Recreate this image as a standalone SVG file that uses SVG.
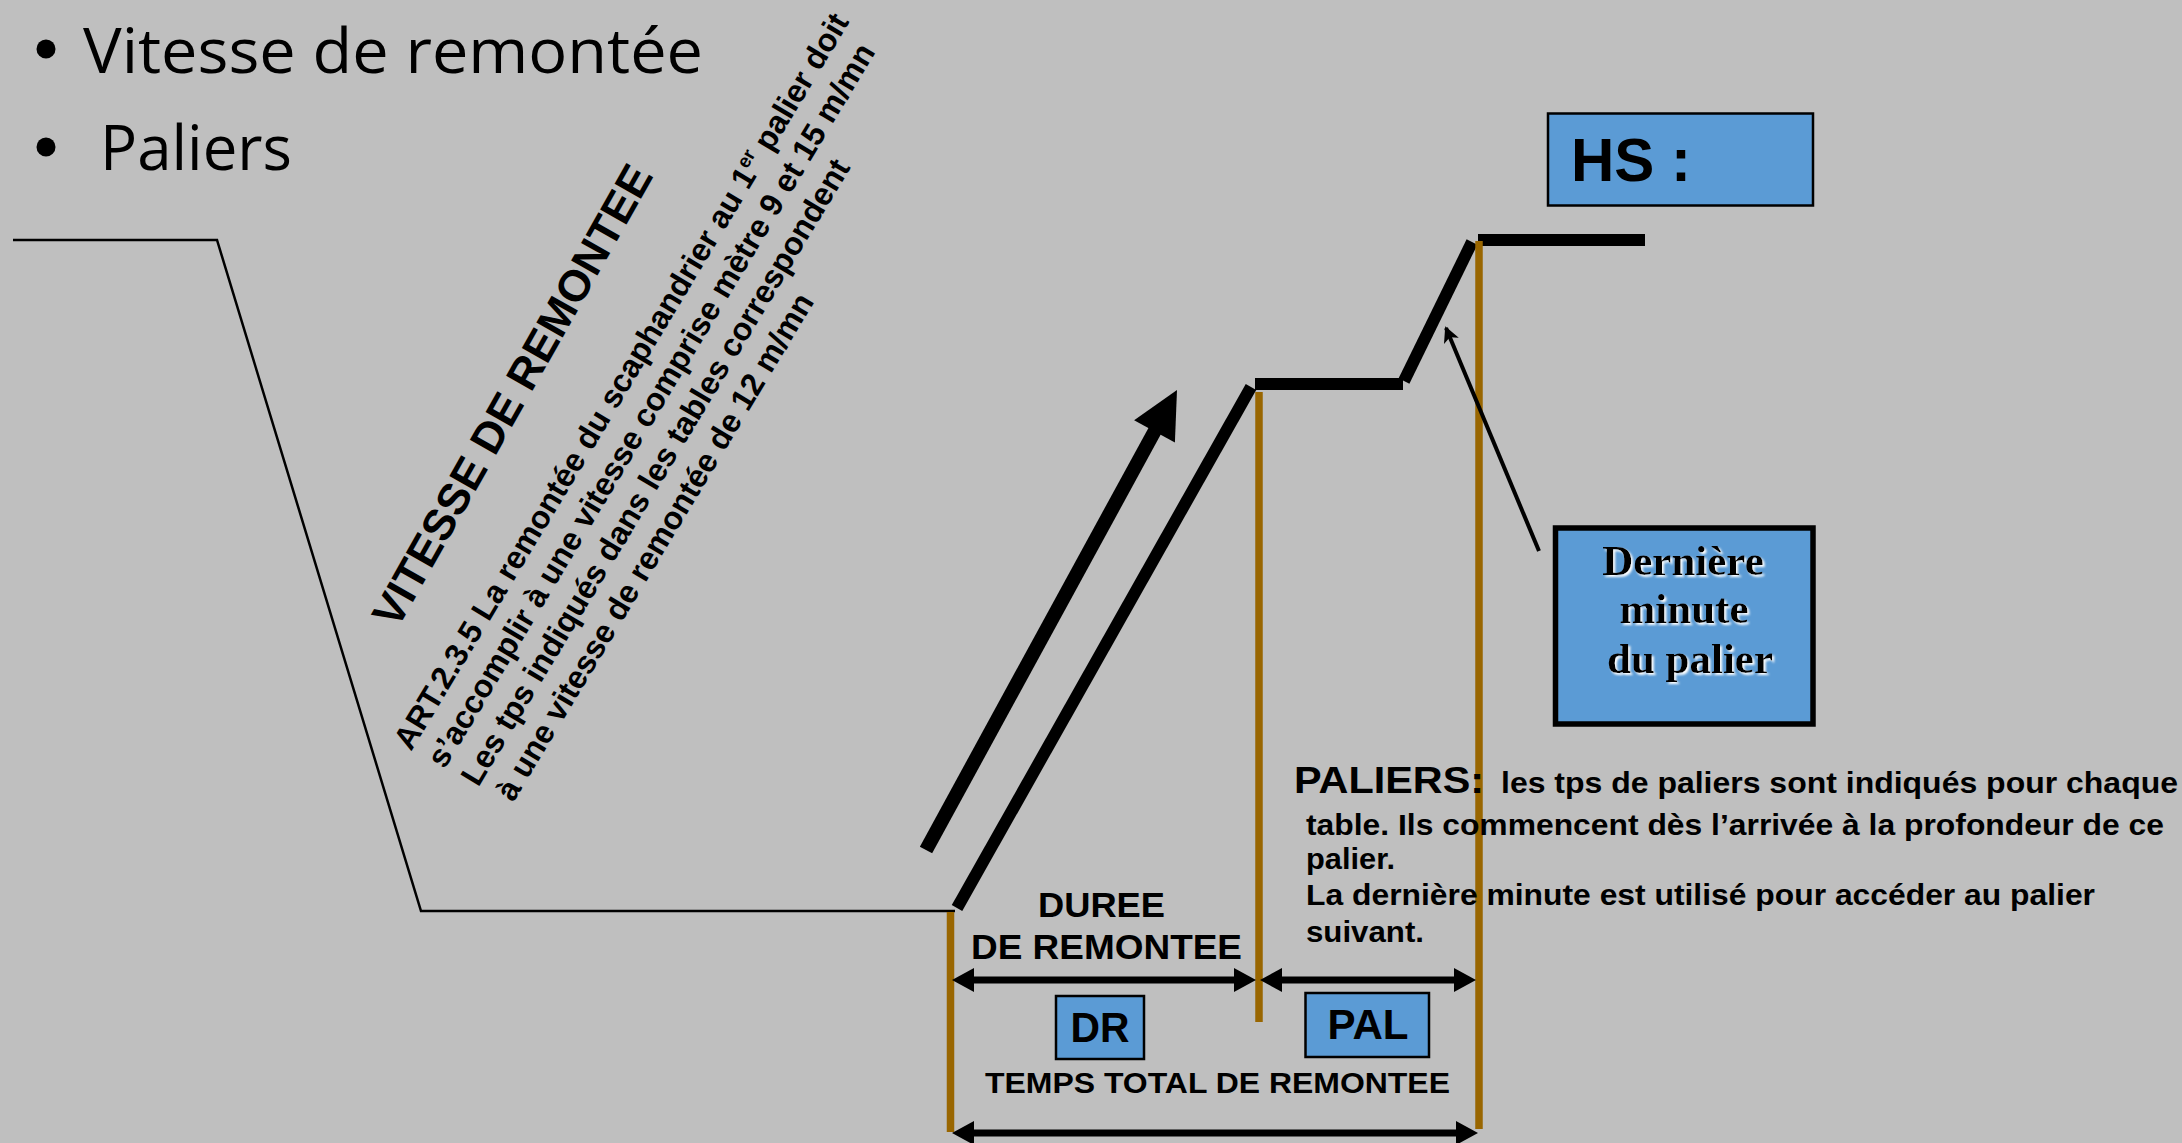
<svg xmlns="http://www.w3.org/2000/svg" width="2182" height="1143" viewBox="0 0 2182 1143">
<style>
.sans{font-family:"Liberation Sans",Arial,sans-serif;font-weight:bold;fill:#000}
.title{font-family:"Open Sans","Noto Sans",sans-serif;font-size:63px;fill:#000}
.serif{font-family:"Liberation Serif","Times New Roman",serif;font-weight:bold;font-size:43px;fill:#000;text-anchor:middle}
.orange{stroke:#996600;stroke-width:7.5;fill:none}
.thick{stroke:#000;stroke-width:12;fill:none;stroke-linecap:butt}
.dim{stroke:#000;stroke-width:7;fill:none}
.box{fill:#5B9BD5;stroke:#000;stroke-width:2.5}
</style>
<defs>
<marker id="dh" viewBox="0 0 22 24" refX="10" refY="12" markerWidth="22" markerHeight="24" markerUnits="userSpaceOnUse" orient="auto-start-reverse"><path d="M0,0 L22,12 L0,24 z" fill="#000"/></marker>
<marker id="sh" viewBox="0 0 16 16" refX="14" refY="8" markerWidth="16" markerHeight="16" markerUnits="userSpaceOnUse" orient="auto"><path d="M0,0 L16,8 L0,16 L4,8 z" fill="#000"/></marker>
<filter id="glow" x="-10%" y="-10%" width="130%" height="130%">
<feOffset in="SourceAlpha" dx="2" dy="2" result="o"/>
<feGaussianBlur in="o" stdDeviation="0.8" result="b"/>
<feFlood flood-color="#fff"/>
<feComposite in2="b" operator="in" result="w"/>
<feMerge><feMergeNode in="w"/><feMergeNode in="SourceGraphic"/></feMerge>
</filter>
</defs>
<rect width="2182" height="1143" fill="#BFBFBF"/>

<g id="bullets">
<circle cx="46" cy="49" r="9.5" fill="#000"/>
<text class="title" x="83" y="73" textLength="620" lengthAdjust="spacingAndGlyphs">Vitesse de remontée</text>
<circle cx="46" cy="147" r="9.5" fill="#000"/>
<text class="title" x="100" y="170" textLength="192" lengthAdjust="spacingAndGlyphs">Paliers</text>
</g>

<g id="profile">
<polyline points="13,240 217,240 421,911 955,911" fill="none" stroke="#000" stroke-width="2.5"/>
<line class="thick" x1="957" y1="908" x2="1251" y2="387"/>
<line class="thick" x1="1255" y1="384" x2="1403" y2="384"/>
<line class="thick" x1="1404" y1="381" x2="1472" y2="242"/>
<line class="thick" x1="1478" y1="240" x2="1645" y2="240"/>
</g>

<g id="ascent-arrow">
<line x1="926" y1="850" x2="1158" y2="425" stroke="#000" stroke-width="14"/>
<polygon points="1177,390 1174.9,442.4 1134.1,420.2" fill="#000"/>
</g>

<g id="vitesse-text" class="sans">
<text transform="translate(397,630) rotate(-60.5)" font-size="44" textLength="522" lengthAdjust="spacingAndGlyphs">VITESSE DE REMONTEE</text>
<g transform="translate(411,752) rotate(-59)" font-size="32">
<text x="0" y="0">ART.2.3.5 La remontée du scaphandrier au 1<tspan font-size="19" dy="-12">er</tspan><tspan dy="12">   palier doit</tspan></text>
<text x="2" y="38">s’accomplir à une vitesse comprise mètre 9 et 15 m/mn</text>
<text x="4" y="76">Les tps indiqués dans les tables correspondent</text>
<text x="9" y="114">à une vitesse de remontée de 12 m/mn</text>
</g>
</g>

<g id="verticals">
<line class="orange" x1="950.5" y1="912" x2="950.5" y2="1132"/>
<line class="orange" x1="1259" y1="392" x2="1259" y2="1022"/>
<line class="orange" x1="1479" y1="241" x2="1479" y2="1129"/>
</g>

<g id="connectors">
<line class="dim" x1="964" y1="980" x2="1244" y2="980" marker-start="url(#dh)" marker-end="url(#dh)"/>
<line class="dim" x1="1272" y1="980" x2="1464" y2="980" marker-start="url(#dh)" marker-end="url(#dh)"/>
<line class="dim" x1="964" y1="1133" x2="1466" y2="1133" marker-start="url(#dh)" marker-end="url(#dh)"/>
<line x1="1539" y1="551" x2="1446" y2="328" stroke="#000" stroke-width="4" marker-end="url(#sh)"/>
</g>

<g id="hs">
<rect class="box" x="1548" y="113.5" width="265" height="92"/>
<text class="sans" x="1571" y="181" font-size="62" textLength="120" lengthAdjust="spacingAndGlyphs">HS :</text>
</g>

<g id="derniere">
<rect x="1555.5" y="528" width="257.5" height="196" fill="#5B9BD5" stroke="#000" stroke-width="5.5"/>
<g filter="url(#glow)">
<text class="serif" x="1683" y="575">Dernière</text>
<text class="serif" x="1684" y="623">minute</text>
<text class="serif" x="1690" y="673">du palier</text>
</g>
</g>

<g id="duree" class="sans" text-anchor="middle">
<text x="1101.5" y="917" font-size="35" textLength="127" lengthAdjust="spacingAndGlyphs">DUREE</text>
<text x="1106.5" y="959" font-size="35" textLength="271" lengthAdjust="spacingAndGlyphs">DE REMONTEE</text>
</g>

<g id="dr">
<rect class="box" x="1056" y="996" width="88" height="63"/>
<text class="sans" x="1100" y="1042" font-size="43" text-anchor="middle" textLength="59" lengthAdjust="spacingAndGlyphs">DR</text>
</g>

<g id="pal">
<rect class="box" x="1305.5" y="993" width="123.5" height="64"/>
<text class="sans" x="1368" y="1039" font-size="43" text-anchor="middle" textLength="81" lengthAdjust="spacingAndGlyphs">PAL</text>
</g>

<g id="total">
<text class="sans" x="1217.5" y="1093" font-size="29" text-anchor="middle" textLength="465" lengthAdjust="spacingAndGlyphs">TEMPS TOTAL DE REMONTEE</text>
</g>

<g id="paliers-text" class="sans" font-size="29">
<text x="1294" y="793" font-size="36" textLength="190" lengthAdjust="spacingAndGlyphs">PALIERS:</text>
<text x="1501" y="793" textLength="677" lengthAdjust="spacingAndGlyphs">les tps de paliers sont indiqués pour chaque</text>
<text x="1306" y="835" textLength="858" lengthAdjust="spacingAndGlyphs">table. Ils commencent dès l’arrivée à la profondeur de ce</text>
<text x="1306" y="869" textLength="89" lengthAdjust="spacingAndGlyphs">palier.</text>
<text x="1306" y="905" textLength="789" lengthAdjust="spacingAndGlyphs">La dernière minute est utilisé pour accéder au palier</text>
<text x="1306" y="942" textLength="118" lengthAdjust="spacingAndGlyphs">suivant.</text>
</g>
</svg>
